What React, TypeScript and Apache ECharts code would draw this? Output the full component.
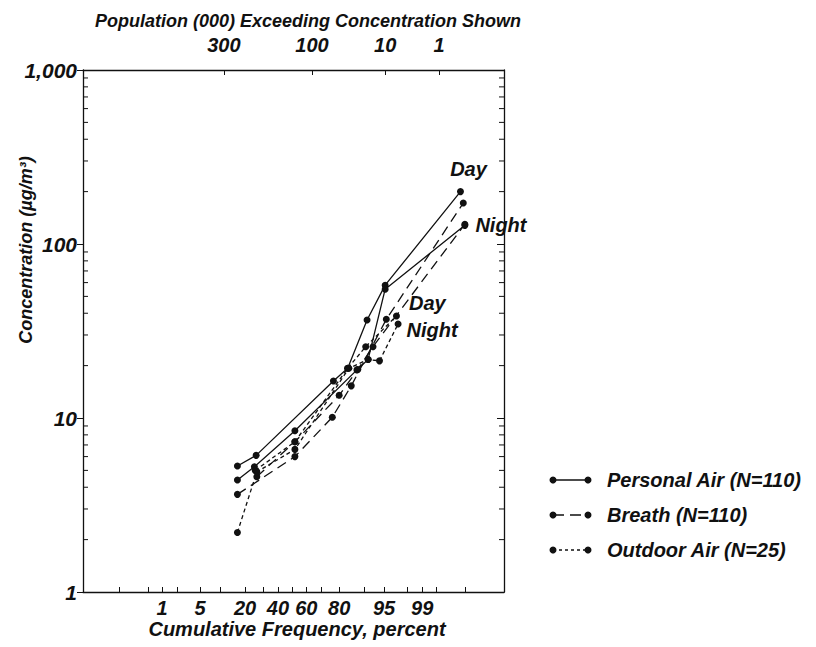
import React, { useEffect, useRef } from "react";
import * as echarts from "echarts";

// ---- tick labels / axis data ----
const freqLabelPct = [1, 5, 20, 40, 60, 80, 95, 99];
const freqLabels = ["1", "5", "20", "40", "60", "80", "95", "99"];
const freqTickPct = [0.1, 0.5, 1, 2, 5, 10, 20, 30, 40, 50, 60, 70, 80, 90, 95, 98, 99, 99.5, 99.9];
const popLabels = ["300", "100", "10", "1"];
const popLabelPct = [11.1, 63.9, 95.2, 99.57];
const concMinorTicks = [2, 3, 4, 5, 6, 7, 8, 9, 20, 30, 40, 50, 60, 70, 80, 90, 200, 300, 400, 500, 600, 700, 800, 900];

// ---- series (cumulative frequency %, concentration ug/m3) ----
const personalDayPct = [16.4, 26, 77, 84, 91, 95.2, 99.87];
const personalDayConc = [5.3, 6.1, 16.3, 19.3, 36.6, 58, 200];
const personalNightPct = [16.4, 25, 52, 87.7, 91.3, 95.2, 99.9];
const personalNightConc = [4.4, 5.25, 8.45, 18.9, 21.7, 55, 128];
const breathDayPct = [16.4, 52, 76.4, 85.5, 95.4, 99.89];
const breathDayConc = [3.64, 6.0, 10.1, 15.3, 36.9, 172];
const breathNightPct = [26.4, 52, 80, 88, 92.6, 99.9];
const breathNightConc = [4.6, 7.3, 13.5, 19, 25.7, 130];
const outdoorDayPct = [25.5, 52, 84, 90.6, 96.9];
const outdoorDayConc = [5.0, 7.3, 19.3, 25.7, 38.6];
const outdoorNightPct = [16.4, 26.4, 52, 84.5, 91.3, 94.1, 97.1];
const outdoorNightConc = [2.2, 4.9, 6.6, 19.3, 21.7, 21.3, 34.7];

const legendNames = ["Personal Air (N=110)", "Breath (N=110)", "Outdoor Air (N=25)"];

// inverse standard normal CDF (probability-paper scale)
function probit(p: number): number {
  const a = [-3.969683028665376e1, 2.209460984245205e2, -2.759285104469687e2, 1.38357751867269e2, -3.066479806614716e1, 2.506628277459239];
  const b = [-5.447609879822406e1, 1.615858368580409e2, -1.556989798598866e2, 6.680131188771972e1, -1.328068155288572e1];
  const c = [-7.784894002430293e-3, -3.223964580411365e-1, -2.400758277161838, -2.549732539343734, 4.374664141464968, 2.938163982698783];
  const d = [7.784695709041462e-3, 3.224671290700398e-1, 2.445134137142996, 3.754408661907416];
  const plow = 0.02425;
  const phigh = 1 - plow;
  let q: number, r: number;
  if (p < plow) {
    q = Math.sqrt(-2 * Math.log(p));
    return (((((c[0] * q + c[1]) * q + c[2]) * q + c[3]) * q + c[4]) * q + c[5]) / ((((d[0] * q + d[1]) * q + d[2]) * q + d[3]) * q + 1);
  }
  if (p <= phigh) {
    q = p - 0.5;
    r = q * q;
    return ((((((a[0] * r + a[1]) * r + a[2]) * r + a[3]) * r + a[4]) * r + a[5]) * q) / (((((b[0] * r + b[1]) * r + b[2]) * r + b[3]) * r + b[4]) * r + 1);
  }
  q = Math.sqrt(-2 * Math.log(1 - p));
  return -(((((c[0] * q + c[1]) * q + c[2]) * q + c[3]) * q + c[4]) * q + c[5]) / ((((d[0] * q + d[1]) * q + d[2]) * q + d[3]) * q + 1);
}
const z = (pct: number) => probit(pct / 100);

const X_MIN = -3.74;
const X_MAX = 3.79;
const INK = "#111";
const FONT = "Liberation Sans, Arial, sans-serif";

const App: React.FC = () => {
  const ref = useRef<HTMLDivElement>(null);
  useEffect(() => {
    if (!ref.current) return;
    const chart = echarts.init(ref.current, undefined, { renderer: "svg" });

    const txt = (size: number) => ({
      fontFamily: FONT,
      fontStyle: "italic" as const,
      fontWeight: "bold" as const,
      fontSize: size,
      color: INK,
    });

    const mk = (pct: number[], conc: number[]) => pct.map((p, i) => [z(p), conc[i]]);

    const lineSeries = (
      name: string,
      pct: number[],
      conc: number[],
      dash: number[] | "solid",
      endLabel?: { text: string; position: any; offset: number[] }
    ) => {
      const data: any[] = mk(pct, conc);
      if (endLabel) {
        const last = data.length - 1;
        data[last] = {
          value: data[last],
          label: {
            show: true,
            formatter: endLabel.text,
            position: endLabel.position,
            offset: endLabel.offset,
            ...txt(20),
          },
        };
      }
      return {
        type: "line",
        name,
        data,
        symbol: "circle",
        symbolSize: 7,
        itemStyle: { color: INK },
        lineStyle: { color: INK, width: 1.3, type: dash },
        z: 3,
      };
    };

    const tickSeries = {
      type: "custom",
      data: concMinorTicks.map((v) => [X_MIN, v]),
      clip: false,
      silent: true,
      renderItem: (_params: any, api: any) => {
        const l = api.coord([X_MIN, api.value(1)]);
        const r = api.coord([X_MAX, api.value(1)]);
        return {
          type: "group",
          children: [
            { type: "line", shape: { x1: l[0], y1: l[1], x2: l[0] + 5, y2: l[1] }, style: { stroke: INK, lineWidth: 1 } },
            { type: "line", shape: { x1: r[0], y1: r[1], x2: r[0] - 5, y2: r[1] }, style: { stroke: INK, lineWidth: 1 } },
          ],
        };
      },
    };

    const legendY = [480, 515, 550];
    const legendDash: any[] = [null, [11, 6], [3, 3]];
    const legendGraphics: any[] = [];
    legendNames.forEach((name, i) => {
      const y = legendY[i];
      legendGraphics.push({
        type: "line",
        shape: { x1: 553, y1: y, x2: 588, y2: y },
        style: { stroke: INK, lineWidth: 1.3, lineDash: legendDash[i] || undefined },
      });
      legendGraphics.push({ type: "circle", shape: { cx: 553, cy: y, r: 3.5 }, style: { fill: INK } });
      legendGraphics.push({ type: "circle", shape: { cx: 588, cy: y, r: 3.5 }, style: { fill: INK } });
      legendGraphics.push({
        type: "text",
        x: 607,
        y,
        style: { text: name, font: `italic bold 20px ${FONT}`, fill: INK, align: "left", verticalAlign: "middle" },
      });
    });

    chart.setOption({
      animation: false,
      backgroundColor: "#fff",
      grid: { left: 83, top: 70, width: 421, height: 522, containLabel: false },
      xAxis: [
        {
          type: "value",
          position: "bottom",
          min: X_MIN,
          max: X_MAX,
          axisLine: { show: true, onZero: false, lineStyle: { color: INK, width: 1.3 } },
          splitLine: { show: false },
          axisTick: { show: true, inside: true, length: 5, customValues: freqTickPct.map(z), lineStyle: { color: INK } },
          axisLabel: {
            show: true,
            margin: 6,
            customValues: freqLabelPct.map(z),
            formatter: (v: number) => {
              const i = freqLabelPct.findIndex((p) => Math.abs(z(p) - v) < 1e-6);
              return i >= 0 ? freqLabels[i] : "";
            },
            ...txt(20),
          },
        },
        {
          type: "value",
          position: "top",
          min: X_MIN,
          max: X_MAX,
          axisLine: { show: true, onZero: false, lineStyle: { color: INK, width: 1.3 } },
          splitLine: { show: false },
          axisTick: { show: true, inside: true, length: 5, customValues: popLabelPct.map(z), lineStyle: { color: INK } },
          axisLabel: {
            show: true,
            margin: 15,
            customValues: popLabelPct.map(z),
            formatter: (v: number) => {
              const i = popLabelPct.findIndex((p) => Math.abs(z(p) - v) < 1e-6);
              return i >= 0 ? popLabels[i] : "";
            },
            ...txt(20),
          },
        },
      ],
      yAxis: [
        {
          type: "log",
          logBase: 10,
          min: 1,
          max: 1000,
          position: "left",
          axisLine: { show: true, onZero: false, lineStyle: { color: INK, width: 1.3 } },
          splitLine: { show: false },
          axisTick: { show: true, inside: false, length: 6, lineStyle: { color: INK } },
          axisLabel: {
            show: true,
            margin: 6,
            formatter: (v: number) => (v >= 1000 ? "1,000" : String(v)),
            ...txt(21),
          },
        },
        {
          type: "log",
          logBase: 10,
          min: 1,
          max: 1000,
          position: "right",
          axisLine: { show: true, onZero: false, lineStyle: { color: INK, width: 1.3 } },
          splitLine: { show: false },
          axisTick: { show: true, inside: true, length: 7, lineStyle: { color: INK } },
          axisLabel: { show: false },
        },
      ],
      series: [
        lineSeries("Personal Day", personalDayPct, personalDayConc, "solid", { text: "Day", position: "top", offset: [8, -4] }),
        lineSeries("Personal Night", personalNightPct, personalNightConc, "solid", { text: "Night", position: "right", offset: [2, 0] }),
        lineSeries("Breath Day", breathDayPct, breathDayConc, [10, 6]),
        lineSeries("Breath Night", breathNightPct, breathNightConc, [10, 6]),
        lineSeries("Outdoor Day", outdoorDayPct, outdoorDayConc, [4, 3], { text: "Day", position: "right", offset: [4, -13] }),
        lineSeries("Outdoor Night", outdoorNightPct, outdoorNightConc, [4, 3], { text: "Night", position: "right", offset: [0, 6] }),
        tickSeries,
      ],
      graphic: [
        {
          type: "text",
          x: 95,
          y: 21,
          style: {
            text: "Population (000) Exceeding Concentration Shown",
            font: `italic bold 18px ${FONT}`,
            fill: INK,
            align: "left",
            verticalAlign: "middle",
          },
        },
        {
          type: "text",
          x: 297,
          y: 629,
          style: {
            text: "Cumulative Frequency, percent",
            font: `italic bold 20px ${FONT}`,
            fill: INK,
            align: "center",
            verticalAlign: "middle",
          },
        },
        {
          type: "text",
          x: 26,
          y: 250,
          rotation: Math.PI / 2,
          style: {
            text: "Concentration (µg/m³)",
            font: `italic bold 18px ${FONT}`,
            fill: INK,
            align: "center",
            verticalAlign: "middle",
          },
        },
        ...legendGraphics,
      ],
    });

    return () => chart.dispose();
  }, []);

  return <div ref={ref} style={{ width: 816, height: 647, position: "absolute", left: 0, top: 0 }} />;
};

export default App;
